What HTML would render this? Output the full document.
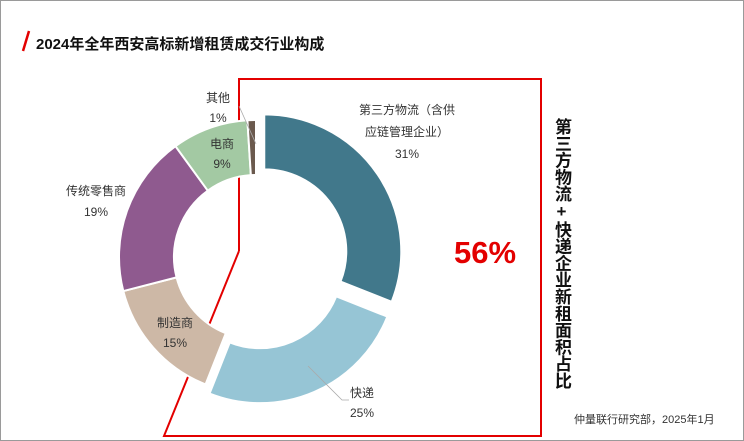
<!DOCTYPE html>
<html><head><meta charset="utf-8"><style>
body{margin:0;background:#fff;}
#c{position:relative;width:744px;height:441px;overflow:hidden;box-sizing:border-box;border:1px solid #9a9a9a;font-family:"Liberation Sans","Noto Sans CJK SC",sans-serif;}
.t{position:absolute;white-space:nowrap;}
</style></head><body>
<div id="c">
<svg width="744" height="441" style="position:absolute;left:0;top:0">
<line x1="22" y1="50" x2="28" y2="30" stroke="#e30000" stroke-width="2.5"/>
<polyline points="238,250 238,78 540,78 540,435 163,435 238,250" fill="none" stroke="#e30000" stroke-width="2"/>
<g id="donut"></g>
<polyline points="238,105 255,143" fill="none" stroke="#aaa" stroke-width="0.8"/>
<polyline points="307,365 341,399 348,399" fill="none" stroke="#aaa" stroke-width="0.8"/>
</svg>
<div class="t" style="left:35px;top:32px;font-size:15px;font-weight:bold;color:#111">2024年全年西安高标新增租赁成交行业构成</div>
<div class="t" style="left:358px;top:98px;font-size:12px;color:#333;text-align:center;line-height:22px">第三方物流（含供<br>应链管理企业）<br>31%</div>
<div class="t" style="left:205px;top:87px;font-size:12px;color:#333;text-align:center;line-height:20px">其他<br>1%</div>
<div class="t" style="left:209px;top:133px;font-size:12px;color:#333;text-align:center;line-height:20px">电商<br>9%</div>
<div class="t" style="left:65px;top:180px;font-size:12px;color:#333;text-align:center;line-height:21px">传统零售商<br>19%</div>
<div class="t" style="left:156px;top:312px;font-size:12px;color:#333;text-align:center;line-height:20px">制造商<br>15%</div>
<div class="t" style="left:349px;top:382px;font-size:12px;color:#333;text-align:center;line-height:20px">快递<br>25%</div>
<div class="t" style="left:453px;top:234px;font-size:31px;font-weight:bold;color:#e30000">56%</div>
<div class="t" style="left:550px;top:117px;font-size:17px;line-height:20px;font-weight:bold;color:#111;writing-mode:vertical-rl;text-orientation:upright;letter-spacing:-0.2px">第三方物流+快递企业新租面积占比</div>
<div class="t" style="left:573px;top:410px;font-size:11px;color:#333">仲量联行研究部，2025年1月</div>
</div>
<script>
const categories=["第三方物流","快递","制造商","传统零售商","电商","其他"];
const values=[31,25,15,19,9,1];
const colors=["#41788b","#96c5d5","#cdb8a6","#8f5a8f","#a3c9a3","#6b5a4e"];
const explode=[10,10,0,0,0,0];
const cx=255,cy=256,R=137,r=82;
const g=document.getElementById('donut');
const total=values.reduce((a,b)=>a+b,0);
function pt(a,rad,dx,dy){return [cx+dx+rad*Math.sin(a),cy+dy-rad*Math.cos(a)];}
let acc=0;
values.forEach((v,i)=>{
  const a0=acc/total*2*Math.PI,a1=(acc+v)/total*2*Math.PI;acc+=v;
  const m=(a0+a1)/2,dx=explode[i]*Math.sin(m),dy=-explode[i]*Math.cos(m);
  const p1=pt(a0,R,dx,dy),p2=pt(a1,R,dx,dy),p3=pt(a1,r,dx,dy),p4=pt(a0,r,dx,dy);
  const lg=(a1-a0)>Math.PI?1:0;
  const p=document.createElementNS('http://www.w3.org/2000/svg','path');
  p.setAttribute('d',`M${p1}A${R},${R} 0 ${lg} 1 ${p2}L${p3}A${r},${r} 0 ${lg} 0 ${p4}Z`);
  p.setAttribute('fill',colors[i]);p.setAttribute('stroke','#fff');p.setAttribute('stroke-width','2');
  
  
  g.appendChild(p);
});
</script>
</body></html>
